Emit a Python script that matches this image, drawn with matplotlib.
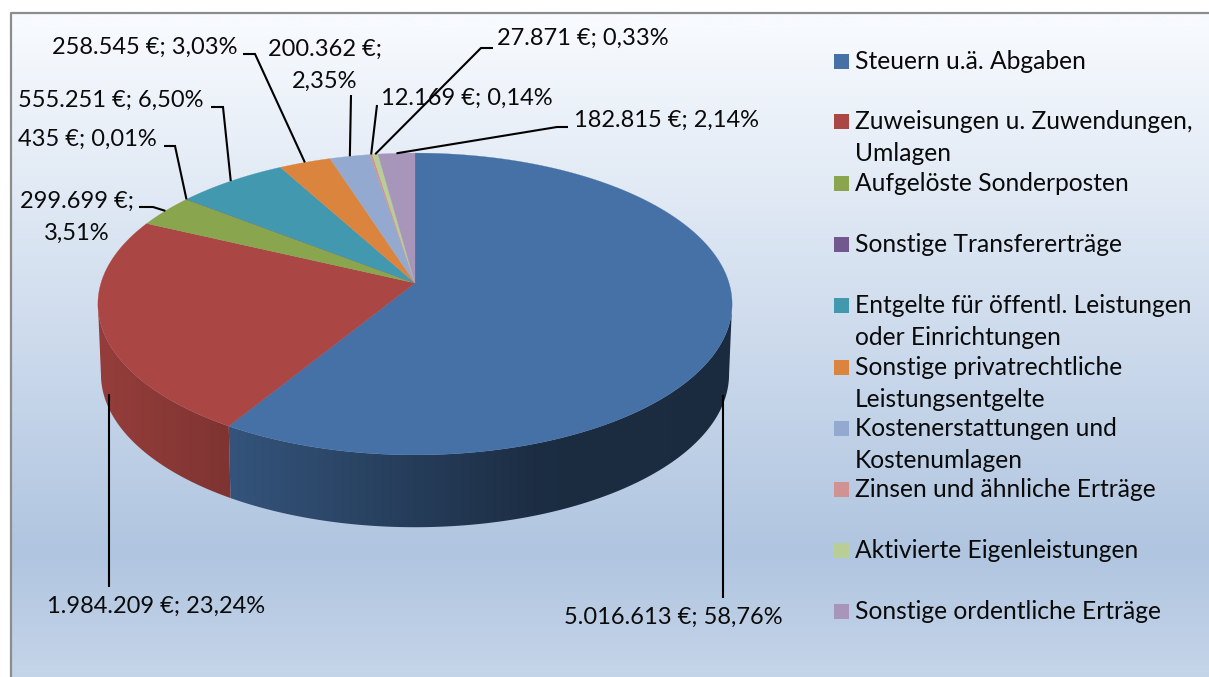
import numpy as np
import matplotlib
matplotlib.use('Agg')
import matplotlib.pyplot as plt
from matplotlib.patches import Polygon, Rectangle

plt.rcParams['font.family'] = ['Lato', 'DejaVu Sans']

# data, clockwise from 12 o'clock
values = [5016613, 1984209, 299699, 435, 555251, 258545, 200362, 12169, 27871, 182815]
colors = ['#4671A6', '#AA4643', '#89A54E', '#71588F', '#4198AF',
          '#DB843D', '#93A9CF', '#D19392', '#B9CD96', '#A796BA']
legend_labels = ['Steuern u.ä. Abgaben', 'Zuweisungen u. Zuwendungen,\nUmlagen', 'Aufgelöste Sonderposten',
                 'Sonstige Transfererträge', 'Entgelte für öffentl. Leistungen\noder Einrichtungen',
                 'Sonstige privatrechtliche\nLeistungsentgelte', 'Kostenerstattungen und\nKostenumlagen',
                 'Zinsen und ähnliche Erträge', 'Aktivierte Eigenleistungen', 'Sonstige ordentliche Erträge']
data_labels = ['5.016.613 €; 58,76%', '1.984.209 €; 23,24%', '299.699 €;\n3,51%', '435 €; 0,01%',
               '555.251 €; 6,50%', '258.545 €; 3,03%', '200.362 €;\n2,35%', '12.169 €; 0,14%',
               '27.871 €; 0,33%', '182.815 €; 2,14%']

# label layout in pixels: centre x + first baseline, and the elbow points of the leader
label_pos = [(673, 624), (156, 613), (77, 208), (87, 146), (111, 107), (145, 54), (325, 56),
             (467, 105), (583, 45), (666, 127)]
label_elbows = [[(723, 598)], [(108.5, 587)], [(153, 207), (139, 207)], [(175, 146), (164, 146)],
                [(223, 107), (211, 107)], [(255, 54), (243, 54)], [(351, 95)], [(377, 105)],
                [(481, 48), (493, 48)], [(557, 127), (568, 127)]]
legend_y = [61, 121, 183, 244, 305, 367, 428, 489, 550, 611]

W, H = 1209, 677
CX, CY = 415, 283
K = 0.139  # perspective of the tilted disc
LINE = 32


def rim(theta, rx, ry, cy):
    t = np.radians(theta)
    u, v = np.sin(t), np.cos(t)
    w = 1 + K * v
    return CX + rx * u / w, cy - ry * v / w


def top_rim(theta):
    return rim(theta, 314, 148, CY)


def low_rim(theta):
    return rim(theta, 311, 150, 353)


def put_lines(x, y, txt, size, ha):
    for n, line in enumerate(txt.split('\n')):
        ax.text(x, y + n * LINE, line, ha=ha, va='baseline', fontsize=size, color='#0a0a0a', zorder=5)


fig = plt.figure(figsize=(W / 100, H / 100), dpi=100)
ax = fig.add_axes([0, 0, 1, 1])
ax.set_xlim(0, W)
ax.set_ylim(H, 0)
ax.autoscale(False)
ax.axis('off')

# background gradient
ys = np.arange(H)
stops_y = [14, 550, 677]
stops_c = np.array([[247, 250, 254], [176, 197, 224], [197, 213, 233]]) / 255
grad = np.stack([np.interp(ys, stops_y, stops_c[:, i]) for i in range(3)], axis=1)[:, None, :]
ax.imshow(grad, extent=(11, W, H, 14), aspect='auto', zorder=0)
ax.plot([10.5, 10.5, W], [H, 13, 13], color='#8c8c8c', lw=1.6, zorder=1)

shares = np.array(values) / np.sum(values) * 360
edges = np.concatenate([[0], np.cumsum(shares)])

# side wall, horizontal shading clipped to each slice (only the part facing the viewer)
xs = np.arange(W)
factor = np.interp(xs, [108, 233, 540, 722], [0.87, 0.74, 0.40, 0.38])
for i, col in enumerate(colors):
    a0, a1 = max(edges[i], 98), min(edges[i + 1], 262)
    if a1 <= a0:
        continue
    th = np.linspace(a0, a1, int((a1 - a0) * 2) + 2)
    outline = [top_rim(t) for t in th] + [low_rim(t) for t in th[::-1]]
    wall = Polygon(outline, closed=True, facecolor='none', edgecolor='none', zorder=2)
    ax.add_patch(wall)
    strip = factor[None, :, None] * np.array(matplotlib.colors.to_rgb(col))[None, None, :]
    img = ax.imshow(strip, extent=(0, W, H, 0), aspect='auto', zorder=2)
    img.set_clip_path(wall)

# top face
for i, col in enumerate(colors):
    th = np.linspace(edges[i], edges[i + 1], max(int(shares[i] * 2), 2) + 1)
    pts = [(CX, CY)] + [top_rim(t) for t in th]
    ax.add_patch(Polygon(pts, closed=True, facecolor=col, edgecolor=col, lw=0.2, zorder=3))

# data labels and leaders
for i, txt in enumerate(data_labels):
    mid = (edges[i] + edges[i + 1]) / 2
    if i == 0:
        start = (723, 395)
    elif i == 1:
        start = (108.5, 394)
    else:
        start = top_rim(mid)
    pts = [start] + label_elbows[i]
    ax.plot([p[0] for p in pts], [p[1] for p in pts], color='black', lw=1.5, zorder=4,
            solid_capstyle='butt', solid_joinstyle='miter')
    put_lines(label_pos[i][0], label_pos[i][1], txt, 17, 'center')

# legend
for col, lab, y in zip(colors, legend_labels, legend_y):
    ax.add_patch(Rectangle((834, y - 7.5), 15, 15, facecolor=col, edgecolor='none', zorder=4))
    put_lines(855, y + 8, lab, 17.7, 'left')

fig.savefig('out.png', dpi=100)
